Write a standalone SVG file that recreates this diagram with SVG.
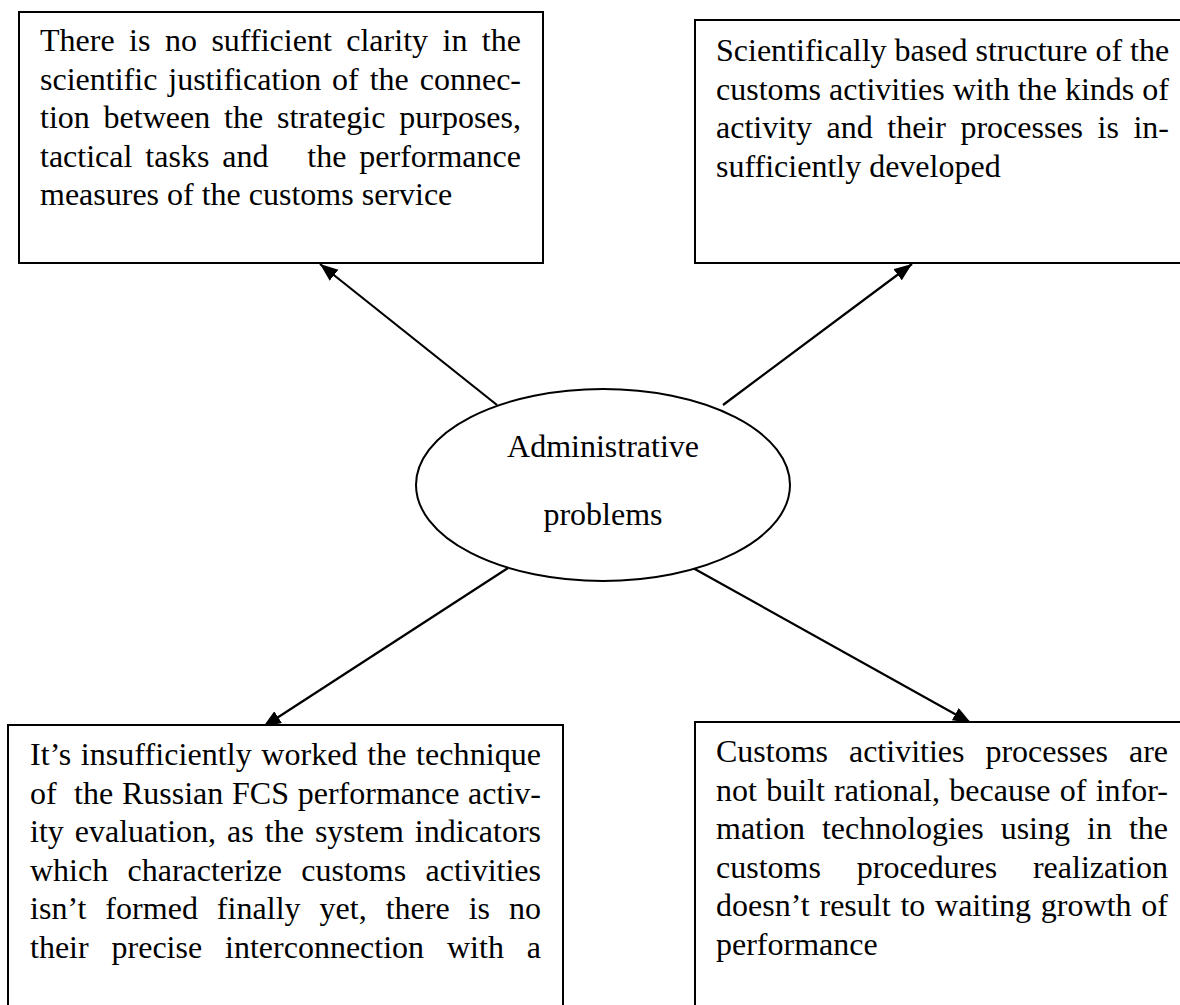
<svg xmlns="http://www.w3.org/2000/svg" width="1180" height="1005" viewBox="0 0 1180 1005">
<style>
.box{fill:#fff;stroke:#000;stroke-width:2}
.t{font-family:"Liberation Serif","Times New Roman",serif;font-size:32px;fill:#000}
.c{text-anchor:middle}
.conn{stroke:#000;stroke-width:2.2;fill:none;marker-end:url(#ah)}
</style>
<defs>
<marker id="ah" markerUnits="userSpaceOnUse" markerWidth="20" markerHeight="16" refX="18" refY="7" orient="auto">
<path d="M0,0 L18,7 L0,14 z" fill="#000"/>
</marker>
</defs>
<g id="connectors">
<line class="conn" x1="497" y1="405" x2="320" y2="264"/>
<line class="conn" x1="723" y1="405" x2="912" y2="264"/>
<line class="conn" x1="508" y1="568" x2="263" y2="727"/>
<line class="conn" x1="693" y1="568" x2="971" y2="723"/>
</g>
<g id="node-top-left">
<rect class="box" x="19" y="12" width="524" height="251"/>
<text class="t" x="40" y="51" word-spacing="6.4" textLength="481" lengthAdjust="spacing">There is no sufficient clarity in the</text>
<text class="t" x="40" y="89.5" word-spacing="2.9" textLength="481" lengthAdjust="spacing">scientific justification of the connec-</text>
<text class="t" x="40" y="128" word-spacing="5.8" textLength="481" lengthAdjust="spacing">tion between the strategic purposes,</text>
<text class="t" x="40" y="166.5" word-spacing="4.9" textLength="481" lengthAdjust="spacing" xml:space="preserve">tactical tasks and   the performance</text>
<text class="t" x="40" y="205">measures of the customs service</text>
</g>
<g id="node-top-right">
<rect class="box" x="695" y="20" width="500" height="243"/>
<text class="t" x="716" y="61">Scientifically based structure of the</text>
<text class="t" x="716" y="99.5" textLength="453" lengthAdjust="spacing">customs activities with the kinds of</text>
<text class="t" x="716" y="138" word-spacing="6.5" textLength="453" lengthAdjust="spacing">activity and their processes is in-</text>
<text class="t" x="716" y="176.5">sufficiently developed</text>
</g>
<g id="node-center">
<ellipse class="box" cx="603" cy="485" rx="187" ry="96"/>
<text class="t c" x="603" y="457">Administrative</text>
<text class="t c" x="603" y="525">problems</text>
</g>
<g id="node-bottom-left">
<rect class="box" x="8" y="725" width="555" height="300"/>
<text class="t" x="30" y="765" word-spacing="1.5" textLength="511" lengthAdjust="spacing">It’s insufficiently worked the technique</text>
<text class="t" x="30" y="803.5" word-spacing="0.7" textLength="511" lengthAdjust="spacing" xml:space="preserve">of  the Russian FCS performance activ-</text>
<text class="t" x="30" y="842" word-spacing="3" textLength="511" lengthAdjust="spacing">ity evaluation, as the system indicators</text>
<text class="t" x="30" y="880.5" word-spacing="11.3" textLength="511" lengthAdjust="spacing">which characterize customs activities</text>
<text class="t" x="30" y="919" word-spacing="10.9" textLength="511" lengthAdjust="spacing">isn’t formed finally yet, there is no</text>
<text class="t" x="30" y="957.5" word-spacing="14.9" textLength="511" lengthAdjust="spacing">their precise interconnection with a</text>
</g>
<g id="node-bottom-right">
<rect class="box" x="695" y="722" width="500" height="300"/>
<text class="t" x="716" y="762" word-spacing="12.9" textLength="452" lengthAdjust="spacing">Customs activities processes are</text>
<text class="t" x="716" y="800.5" word-spacing="1.2" textLength="452" lengthAdjust="spacing">not built rational, because of infor-</text>
<text class="t" x="716" y="839" word-spacing="9" textLength="452" lengthAdjust="spacing">mation technologies using in the</text>
<text class="t" x="716" y="877.5" word-spacing="27.8" textLength="452" lengthAdjust="spacing">customs procedures realization</text>
<text class="t" x="716" y="916" word-spacing="1.7" textLength="452" lengthAdjust="spacing">doesn’t result to waiting growth of</text>
<text class="t" x="716" y="954.5">performance</text>
</g>
</svg>
